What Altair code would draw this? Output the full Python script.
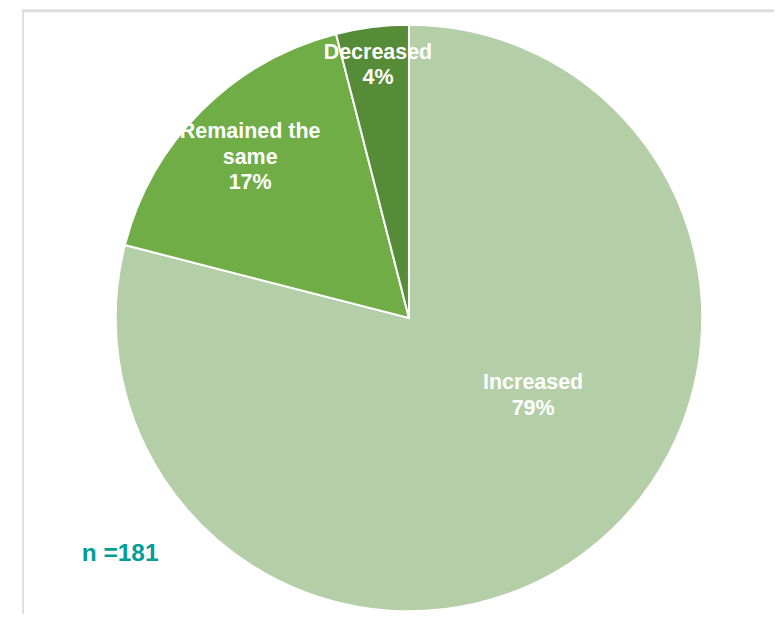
import altair as alt
import pandas as pd

categories = ["Increased", "Remained the same", "Decreased"]
label_lines = ["Increased", "Remained the\nsame", "Decreased"]
percentages = [79, 17, 4]
colors = ["#b4cfa7", "#70ad47", "#568b38"]
n_value = [181]

df = pd.DataFrame({
    "cat": categories,
    "lbl": label_lines,
    "pct": percentages,
    "idx": list(range(len(categories))),
})

CX, CY, R = 402, 308, 294

border_top = alt.Chart(pd.DataFrame({"a": [0]})).mark_rule(color="#dedede", strokeWidth=3).encode(
    x=alt.value(14), x2=alt.value(768), y=alt.value(0)
)
border_left = alt.Chart(pd.DataFrame({"a": [0]})).mark_rule(color="#dedede", strokeWidth=2).encode(
    x=alt.value(15), y=alt.value(0), y2=alt.value(605)
)

pie = alt.Chart(df).mark_arc(radius=R, stroke="white", strokeWidth=2).encode(
    theta=alt.Theta("pct:Q", stack=True),
    color=alt.Color("cat:N", scale=alt.Scale(domain=categories, range=colors), legend=None),
    order=alt.Order("idx:Q"),
    x=alt.value(CX),
    y=alt.value(CY),
)

base = alt.Chart(df).transform_window(
    cum="sum(pct)", frame=[None, 0], sort=[alt.SortField("idx")]
).transform_calculate(
    mid="(datum.cum - datum.pct/2)/100*2*PI",
    text="datum.lbl + '\\n' + datum.pct + '%'",
)

def label_layer(cat, radius, dx=0, dy=0):
    return base.transform_filter(alt.datum.cat == cat).mark_text(
        radius=radius, dx=dx, dy=dy, lineBreak="\n", lineHeight=25.5,
        font="Liberation Sans", fontWeight="bold", fontSize=21.5,
        color="white", align="center", baseline="middle",
    ).encode(
        theta=alt.Theta("mid:Q", scale=None),
        text="text:N",
        x=alt.value(CX),
        y=alt.value(CY),
    )

lab_inc = label_layer("Increased", 146, dx=35, dy=-50)
lab_rem = label_layer("Remained the same", 228, dx=2, dy=-25)
lab_dec = label_layer("Decreased", 256, dx=1, dy=-12)

n_text = alt.Chart(pd.DataFrame({"n": n_value})).transform_calculate(
    t="'n =' + datum.n"
).mark_text(
    font="Liberation Sans", fontWeight="bold", fontSize=24.5, color="#009e96",
    align="left", baseline="middle",
).encode(text="t:N", x=alt.value(74), y=alt.value(545))

chart = alt.layer(border_top, border_left, pie, lab_inc, lab_rem, lab_dec, n_text).properties(
    width=768, height=605, padding=0
).configure_view(stroke=None)

chart.save("out.html", embed_options={"renderer": "svg", "actions": False})
